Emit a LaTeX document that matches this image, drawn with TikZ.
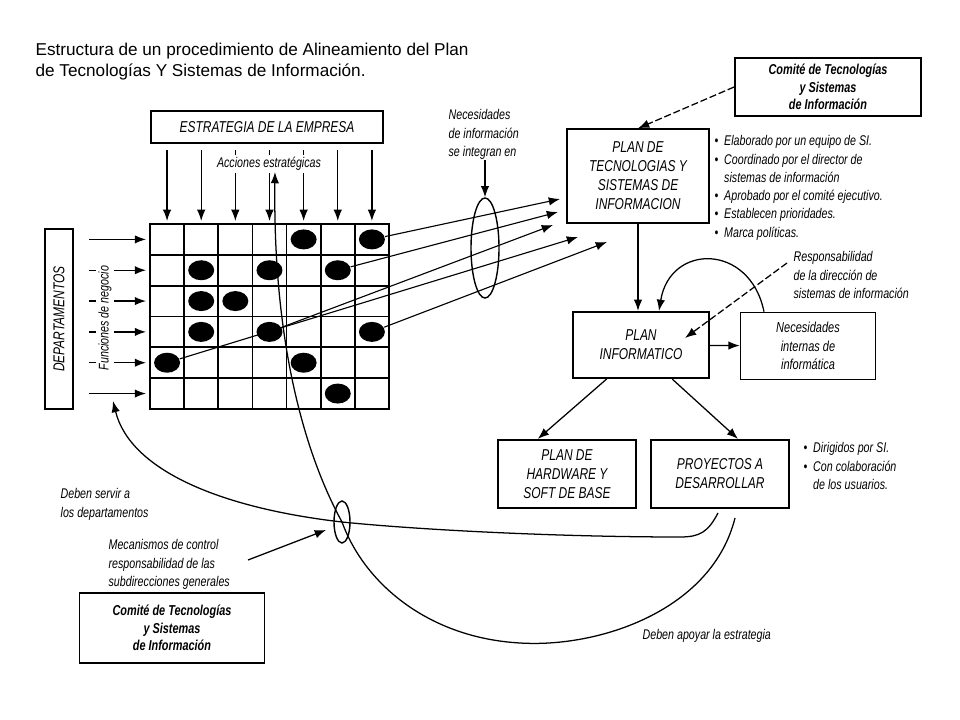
\documentclass[tikz,border=0pt]{standalone}
\usepackage{fontspec}
\setmainfont{Liberation Sans}
\newfontfamily\condsans[FakeStretch=0.76]{Liberation Sans}
\usetikzlibrary{arrows.meta,shapes.geometric}
\newcommand{\blt}{\makebox[0.24cm][l]{\textbullet}}

\begin{document}
\begin{tikzpicture}[x=0.025cm,y=-0.025cm,>={Latex[length=8pt,width=6pt]},
  line width=0.9pt,
  box node/.style={rectangle,draw,line width=1.5pt,align=center,inner sep=2pt,
    font=\condsans\itshape\fontsize{11.2}{13.5}\selectfont},
  comite node/.style={rectangle,draw,line width=1.2pt,align=center,
    font=\condsans\bfseries\itshape\fontsize{10.2}{12.6}\selectfont},
  text node/.style={align=left,inner sep=0pt,
    font=\condsans\itshape\fontsize{10}{13}\selectfont},
  dot node/.style={ellipse,fill=black,minimum width=0.65cm,minimum height=0.5cm,inner sep=0pt},
  ring node/.style={ellipse,draw,line width=1pt,inner sep=0pt}]

  \useasboundingbox (0,0) rectangle (960,720);

  % title
  \node[anchor=north west,align=left,inner sep=0pt,font=\fontsize{12.2}{15}\selectfont]
    (title) at (35,42) {Estructura de un procedimiento de Alineamiento del Plan\\
    de Tecnologías Y Sistemas de Información.};

  % departamentos / estrategia
  \node[box node,minimum width=4.5cm,minimum height=0.72cm,rotate=90] (dep) at (59,319) {DEPARTAMENTOS};
  \node[box node,minimum width=5.8cm,minimum height=0.8cm] (estr) at (267,127) {ESTRATEGIA DE LA EMPRESA};

  % matrix of functions x actions
  \foreach \i in {1,...,6}
    \draw[line width=1.2pt] ({150+\i*34.14},224) -- ++(0,185);
  \foreach \j in {1,...,5}
    \draw[line width=1.2pt] (150,{224+\j*30.83}) -- ++(239,0);
  \draw[line width=1.8pt] (150,224) rectangle (389,409);

  \foreach \c/\r in {5/1,7/1,2/2,4/2,6/2,2/3,3/3,2/4,4/4,7/4,1/5,5/5,6/6}
    \node[dot node] (d\r\c) at ({150+(\c-0.5)*34.14},{224+(\r-0.5)*30.83}) {};

  \foreach \c in {1,...,7} {
    \coordinate (s\c) at ({150+(\c-0.5)*34.14},150);
    \coordinate (t\c) at ({150+(\c-0.5)*34.14},221);
    \draw[->] (s\c) -- (t\c);
  }
  \foreach \r in {1,...,6} {
    \coordinate (f\r) at (89,{224+(\r-0.5)*30.83});
    \coordinate (g\r) at (146,{224+(\r-0.5)*30.83});
    \draw[->] (f\r) -- (g\r);
  }
  \node[text node,fill=white,inner sep=1.5pt,rotate=90] (func) at (105,318) {Funciones de negocio};
  \node[text node,fill=white,inner sep=1.5pt] (acc) at (269,164) {Acciones estratégicas};

  % plans
  \node[box node,minimum width=3.55cm,minimum height=2.33cm] (plantec) at (638,176) {PLAN DE\\TECNOLOGIAS Y\\SISTEMAS DE\\INFORMACION};
  \node[comite node,minimum width=4.65cm,minimum height=1.45cm] (com1) at (828,87) {Comité de Tecnologías\\y Sistemas\\de Información};
  \node[box node,minimum width=3.38cm,minimum height=1.65cm] (planinf) at (641,345) {PLAN\\INFORMATICO};
  \node[box node,line width=1pt,minimum width=3.38cm,minimum height=1.68cm,
    font=\condsans\itshape\fontsize{10.3}{13}\selectfont] (necint) at (808,346) {Necesidades\\internas de\\informática};
  \node[box node,minimum width=3.45cm,minimum height=1.7cm] (hw) at (567,474) {PLAN DE\\HARDWARE Y\\SOFT DE BASE};
  \node[box node,minimum width=3.43cm,minimum height=1.7cm] (proy) at (720,474) {PROYECTOS A\\DESARROLLAR};
  \node[comite node,minimum width=4.63cm,minimum height=1.75cm] (com2) at (172,628) {Comité de Tecnologías\\y Sistemas\\de Información};

  % labels
  \node[text node,anchor=north west] (necinfo) at (448,109) {Necesidades\\de información\\se integran en};
  \node[ring node,minimum width=0.7cm,minimum height=2.5cm] (ring1) at (485,248) {};
  \node[text node,anchor=north west] (bul1) at (714,135) {\blt Elaborado por un equipo de SI.\\
    \blt Coordinado por el director de\\
    \hspace*{0.24cm}sistemas de información\\
    \blt Aprobado por el comité ejecutivo.\\
    \blt Establecen prioridades.\\
    \blt Marca políticas.};
  \node[text node,anchor=north west] (resp) at (793,251) {Responsabilidad\\de la dirección de\\sistemas de información};
  \node[text node,anchor=north west] (bul2) at (803,442) {\blt Dirigidos por SI.\\
    \blt Con colaboración\\
    \hspace*{0.24cm}de los usuarios.};
  \node[text node,anchor=north west] (servir) at (60,488) {Deben servir a\\los departamentos};
  \node[text node,anchor=north west] (mecan) at (108,539) {Mecanismos de control\\responsabilidad de las\\subdirecciones generales};
  \node[text node,anchor=north west] (apoyar) at (642,629) {Deben apoyar la estrategia};
  \node[ring node,minimum width=0.4cm,minimum height=1.05cm] (ring2) at (342,522) {};

  % needs of information
  \coordinate (e1) at (560,199);
  \coordinate (e2) at (558,212);
  \coordinate (e3) at (553,225);
  \coordinate (e4) at (578,237);
  \coordinate (e5) at (607,242);
  \path[->,line width=0.8pt]
    (d17) edge (e1)
    (d26) edge (e2)
    (d44) edge (e3)
    (d51) edge (e4)
    (d47) edge (e5);
  \draw[->] (necinfo.south -| ring1.north) -- (ring1.north);

  \draw[->,dash pattern=on 5pt off 2pt] (com1.west) -- (plantec.north);
  \draw[->] (plantec.south) -- (plantec.south |- planinf.north);
  \draw[->] (planinf) -- (necint);
  \draw[->] ([xshift=-1.1cm]necint.north) .. controls (750,243) and (670,243) .. ([xshift=0.45cm]planinf.north);
  \coordinate (respfrom) at (787,263);
  \coordinate (respto) at (685,338);
  \draw[->,dash pattern=on 5pt off 2pt] (respfrom) -- (respto);
  \draw[->] ([xshift=-0.86cm]planinf.south) -- ([xshift=-0.73cm]hw.north);
  \draw[->] ([xshift=0.78cm]planinf.south) -- ([xshift=0.45cm]proy.north);

  % feedback
  \coordinate (apoyo) at (735,518);
  \coordinate (estrup) at (275,172);
  \draw[->] (apoyo) .. controls (712,610) and (600,648) .. (520,643)
    .. controls (430,638) and (365,585) .. (342,522)
    .. controls (300,445) and (273,330) .. (estrup);
  \coordinate (servfrom) at (718,513);
  \coordinate (servto) at (113,401);
  \draw[->] (servfrom) .. controls (708,532) and (700,537) .. (680,537)
    .. controls (560,537) and (420,530) .. (342,522)
    .. controls (220,508) and (130,470) .. (servto);
  \coordinate (mecfrom) at (248,560);
  \coordinate (mecto) at (326,530);
  \draw[->] (mecfrom) -- (mecto);
\end{tikzpicture}
\end{document}
